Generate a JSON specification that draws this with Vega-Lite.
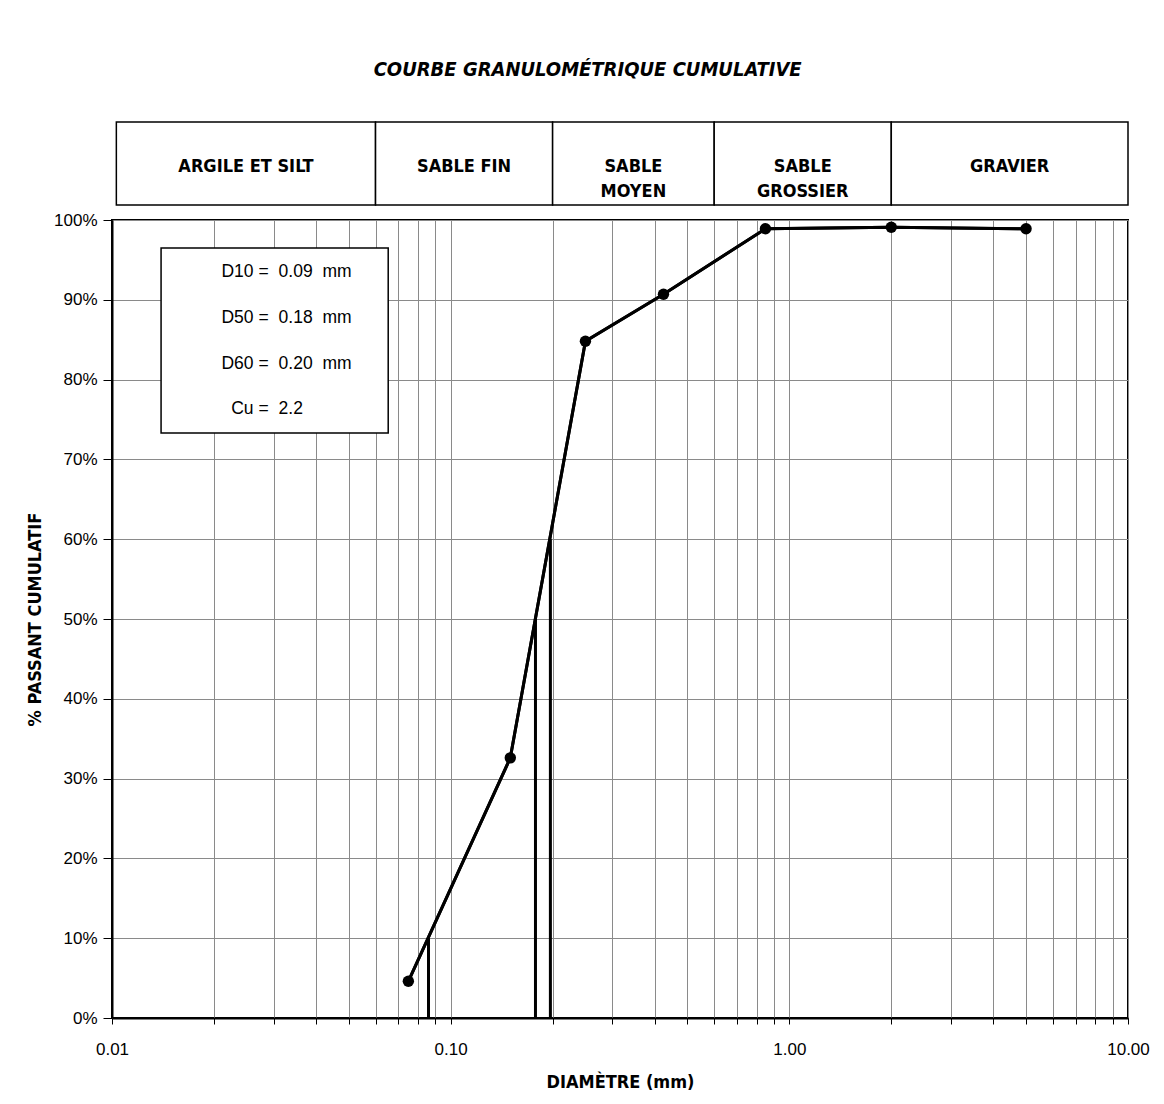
{
  "$schema": "https://vega.github.io/schema/vega-lite/v6.json",
  "padding": {"left": 25, "top": 60, "right": 10, "bottom": 10},
  "background": "white",
  "title": {
    "text": "COURBE GRANULOMÉTRIQUE CUMULATIVE",
    "font": "Liberation Sans Narrow, Arial Narrow, DejaVu Sans Condensed, sans-serif",
    "fontSize": 20,
    "fontStyle": "italic",
    "fontWeight": "bold",
    "color": "black",
    "anchor": "middle",
    "offset": 41
  },
  "datasets": {
    "classes": [
      {"name": "ARGILE ET SILT", "lo": 0.0103, "hi": 0.06},
      {"name": "SABLE FIN", "lo": 0.06, "hi": 0.2},
      {"name": "SABLE\nMOYEN", "lo": 0.2, "hi": 0.6},
      {"name": "SABLE\nGROSSIER", "lo": 0.6, "hi": 2},
      {"name": "GRAVIER", "lo": 2, "hi": 10}
    ],
    "curve": [
      {"d": 0.075, "p": 0.046},
      {"d": 0.15, "p": 0.326},
      {"d": 0.25, "p": 0.848},
      {"d": 0.425, "p": 0.907},
      {"d": 0.85, "p": 0.989},
      {"d": 2.0, "p": 0.991},
      {"d": 5.0, "p": 0.989}
    ],
    "dlines": [
      {"name": "D10", "d": 0.086, "p": 0.10},
      {"name": "D50", "d": 0.178, "p": 0.50},
      {"name": "D60", "d": 0.197, "p": 0.60}
    ],
    "stats": [
      {"k": "D10 =", "v": "0.09\u00a0 mm", "p": 0.935},
      {"k": "D50 =", "v": "0.18\u00a0 mm", "p": 0.877},
      {"k": "D60 =", "v": "0.20\u00a0 mm", "p": 0.8195},
      {"k": "Cu =", "v": "2.2", "p": 0.763}
    ]
  },
  "spacing": 4,
  "vconcat": [
    {
      "width": 1016,
      "height": 83,
      "view": {"stroke": null},
      "data": {"name": "classes"},
      "transform": [{"calculate": "sqrt(datum.lo * datum.hi)", "as": "mid"}],
      "layer": [
        {
          "mark": {"type": "rect", "fill": "white", "stroke": "black", "strokeWidth": 1.5},
          "encoding": {
            "x": {"field": "lo", "type": "quantitative", "scale": {"type": "log", "domain": [0.01, 10], "nice": false}, "axis": null},
            "x2": {"field": "hi"},
            "y": {"datum": 0, "type": "quantitative", "scale": {"domain": [0, 1]}, "axis": null},
            "y2": {"datum": 1}
          }
        },
        {
          "mark": {"type": "text", "font": "Liberation Sans Narrow, Arial Narrow, DejaVu Sans Condensed, sans-serif", "fontSize": 18, "fontWeight": "bold", "lineBreak": "\n", "lineHeight": 25, "baseline": "middle", "align": "center", "color": "black", "dy": 3},
          "encoding": {
            "x": {"field": "mid", "type": "quantitative"},
            "y": {"datum": 0.5, "type": "quantitative"},
            "text": {"field": "name", "type": "nominal"}
          }
        }
      ]
    },
    {
      "width": 1016,
      "height": 798,
      "layer": [
        {
          "data": {"name": "curve"},
          "mark": {"type": "line", "color": "black", "strokeWidth": 3},
          "encoding": {
            "x": {
              "field": "d", "type": "quantitative",
              "scale": {"type": "log", "domain": [0.01, 10], "nice": false},
              "axis": {
                "title": "DIAMÈTRE (mm)",
                "values": [0.01,0.02,0.03,0.04,0.05,0.06,0.07,0.08,0.09,0.1,0.2,0.3,0.4,0.5,0.6,0.7,0.8,0.9,1,2,3,4,5,6,7,8,9,10],
                "labelExpr": "abs(log(datum.value)/LN10 - round(log(datum.value)/LN10)) < 0.000001 ? format(datum.value, '.2f') : ''",
                "labelOverlap": false,
                "labelFlush": false,
                "labelBound": false,
                "grid": true,
                "tickSize": 6,
                "labelPadding": 17,
                "titleY": 64,
                "titleBaseline": "middle"
              }
            },
            "y": {
              "field": "p", "type": "quantitative",
              "scale": {"domain": [0, 1], "nice": false},
              "axis": {
                "title": "% PASSANT CUMULATIF",
                "values": [0,0.1,0.2,0.3,0.4,0.5,0.6,0.7,0.8,0.9,1],
                "format": ".0%",
                "grid": true,
                "tickSize": 9,
                "labelPadding": 6,
                "titleX": -77,
                "titleBaseline": "middle"
              }
            }
          }
        },
        {
          "data": {"values": [{}]},
          "mark": {"type": "rect", "fill": "white", "stroke": "black", "strokeWidth": 1.5},
          "encoding": {
            "x": {"datum": 0.01396, "type": "quantitative"},
            "x2": {"datum": 0.0654},
            "y": {"datum": 0.965, "type": "quantitative"},
            "y2": {"datum": 0.733}
          }
        },
        {
          "data": {"name": "stats"},
          "mark": {"type": "text", "align": "right", "baseline": "middle", "dx": -3, "fontSize": 17.5, "font": "Liberation Sans, Arial, sans-serif", "color": "black"},
          "encoding": {
            "x": {"datum": 0.0296, "type": "quantitative"},
            "y": {"field": "p", "type": "quantitative"},
            "text": {"field": "k", "type": "nominal"}
          }
        },
        {
          "data": {"name": "stats"},
          "mark": {"type": "text", "align": "left", "baseline": "middle", "dx": 7, "fontSize": 17.5, "font": "Liberation Sans, Arial, sans-serif", "color": "black"},
          "encoding": {
            "x": {"datum": 0.0296, "type": "quantitative"},
            "y": {"field": "p", "type": "quantitative"},
            "text": {"field": "v", "type": "nominal"}
          }
        },
        {
          "data": {"name": "dlines"},
          "mark": {"type": "rule", "color": "black", "strokeWidth": 3},
          "encoding": {
            "x": {"field": "d", "type": "quantitative"},
            "y": {"field": "p", "type": "quantitative"},
            "y2": {"datum": 0}
          }
        },
        {
          "data": {"name": "curve"},
          "mark": {"type": "line", "color": "black", "strokeWidth": 3},
          "encoding": {
            "x": {"field": "d", "type": "quantitative"},
            "y": {"field": "p", "type": "quantitative"}
          }
        },
        {
          "data": {"name": "curve"},
          "mark": {"type": "point", "shape": "circle", "filled": true, "color": "black", "size": 130, "opacity": 1},
          "encoding": {
            "x": {"field": "d", "type": "quantitative"},
            "y": {"field": "p", "type": "quantitative"}
          }
        }
      ]
    }
  ],
  "config": {
    "view": {"stroke": "black", "strokeWidth": 2},
    "axis": {
      "domainColor": "black",
      "domainWidth": 2,
      "tickColor": "black",
      "tickWidth": 1,
      "gridColor": "#8a8a8a",
      "gridWidth": 1,
      "labelColor": "black",
      "labelFont": "Liberation Sans, Arial, sans-serif",
      "labelFontSize": 17,
      "titleColor": "black",
      "titleFont": "Liberation Sans Narrow, Arial Narrow, DejaVu Sans Condensed, sans-serif",
      "titleFontSize": 18,
      "titleFontWeight": "bold"
    }
  }
}
